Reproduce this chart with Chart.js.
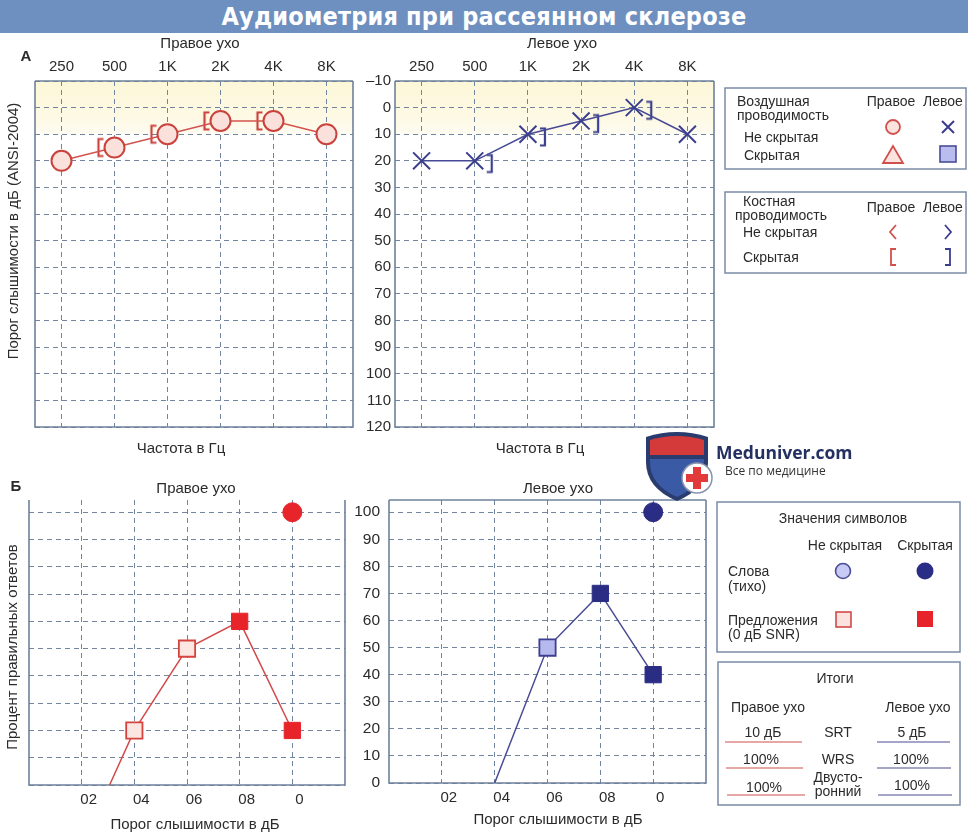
<!DOCTYPE html>
<html><head><meta charset="utf-8">
<script src="https://cdn.jsdelivr.net/npm/chart.js@4.4.0/dist/chart.umd.min.js"></script>
<style>
html,body{margin:0;padding:0;background:#fff}
body{width:968px;height:833px;position:relative;overflow:hidden;font-family:'Liberation Sans',Arial,sans-serif;color:#2a2a2a}
#bar{position:absolute;left:0;top:0;width:968px;height:33px;background:#6d90c0;color:#fff;text-align:center;
 font-family:'DejaVu Sans Condensed','DejaVu Sans',sans-serif;font-stretch:condensed;font-weight:bold;font-size:25px;line-height:33px;letter-spacing:0.2px}
canvas{position:absolute}
#ov{position:absolute;left:0;top:0;z-index:3;pointer-events:none}
#ov text{font-family:'Liberation Sans',Arial,sans-serif;fill:#2b2b2b}
#ov .lg{font-size:14px}
</style></head><body>
<div id="bar">Аудиометрия при рассеянном склерозе</div>
<canvas id="cA1" width="360" height="410" style="left:0;top:30px"></canvas>
<canvas id="cA2" width="370" height="410" style="left:355px;top:30px"></canvas>
<canvas id="cB1" width="360" height="350" style="left:0;top:470px"></canvas>
<canvas id="cB2" width="380" height="350" style="left:340px;top:470px"></canvas>

<svg id="ov" width="968" height="833" viewBox="0 0 968 833">
 <!-- panel labels and axis titles -->
 <text x="26" y="55" font-size="15" font-weight="bold" text-anchor="middle" dominant-baseline="central">А</text>
 <text x="200" y="42" font-size="15" text-anchor="middle" dominant-baseline="central">Правое ухо</text>
 <text x="562" y="42" font-size="15" text-anchor="middle" dominant-baseline="central">Левое ухо</text>
 <text transform="translate(12,231) rotate(-90)" font-size="15" text-anchor="middle" dominant-baseline="central">Порог слышимости в дБ (ANSI-2004)</text>
 <text x="181" y="447" font-size="15" text-anchor="middle" dominant-baseline="central">Частота в Гц</text>
 <text x="540" y="447" font-size="15" text-anchor="middle" dominant-baseline="central">Частота в Гц</text>

 <text x="16" y="485" font-size="15" font-weight="bold" text-anchor="middle" dominant-baseline="central">Б</text>
 <text x="196" y="487" font-size="15" text-anchor="middle" dominant-baseline="central">Правое ухо</text>
 <text x="558" y="487" font-size="15" text-anchor="middle" dominant-baseline="central">Левое ухо</text>
 <text transform="translate(11,647) rotate(-90)" font-size="15" text-anchor="middle" dominant-baseline="central">Процент правильных ответов</text>
 <text x="195" y="823" font-size="15" text-anchor="middle" dominant-baseline="central">Порог слышимости в дБ</text>
 <text x="558" y="818" font-size="15" text-anchor="middle" dominant-baseline="central">Порог слышимости в дБ</text>

 <!-- legend box 1: air conduction -->
 <rect x="725" y="88" width="241" height="81" fill="none" stroke="#7b8ba5" stroke-width="1.5"/>
 <text class="lg" x="737" y="101" dominant-baseline="central">Воздушная</text>
 <text class="lg" x="737" y="115" dominant-baseline="central">проводимость</text>
 <text class="lg" x="891" y="101" text-anchor="middle" dominant-baseline="central">Правое</text>
 <text class="lg" x="943" y="101" text-anchor="middle" dominant-baseline="central">Левое</text>
 <text class="lg" x="744" y="137" dominant-baseline="central">Не скрытая</text>
 <text class="lg" x="744" y="155" dominant-baseline="central">Скрытая</text>
 <circle cx="893" cy="127" r="7" fill="#fbe4df" stroke="#d2504c" stroke-width="1.8"/>
 <path d="M942,121 L954,133 M954,121 L942,133" stroke="#3a3d8f" stroke-width="2" fill="none"/>
 <path d="M893,146 L883,163 L903,163 Z" fill="#fbe4df" stroke="#d2504c" stroke-width="1.8"/>
 <rect x="940" y="146" width="16" height="16" fill="#b8bcef" stroke="#4a4d95" stroke-width="1.6"/>

 <!-- legend box 2: bone conduction -->
 <rect x="725" y="192" width="241" height="81" fill="none" stroke="#7b8ba5" stroke-width="1.5"/>
 <text class="lg" x="743" y="201" dominant-baseline="central">Костная</text>
 <text class="lg" x="735" y="215" dominant-baseline="central">проводимость</text>
 <text class="lg" x="891" y="207" text-anchor="middle" dominant-baseline="central">Правое</text>
 <text class="lg" x="943" y="207" text-anchor="middle" dominant-baseline="central">Левое</text>
 <text class="lg" x="743" y="232" dominant-baseline="central">Не скрытая</text>
 <text class="lg" x="743" y="257" dominant-baseline="central">Скрытая</text>
 <path d="M896,225 L890,232 L896,239" stroke="#d2504c" stroke-width="1.8" fill="none"/>
 <path d="M945,225 L951,232 L945,239" stroke="#3a3d8f" stroke-width="1.8" fill="none"/>
 <path d="M896,249 L891,249 L891,265 L896,265" stroke="#d2504c" stroke-width="1.8" fill="none"/>
 <path d="M945,249 L950,249 L950,265 L945,265" stroke="#3a3d8f" stroke-width="1.8" fill="none"/>

 <!-- legend box 3: speech symbols -->
 <rect x="717" y="502" width="243" height="150" fill="none" stroke="#7b8ba5" stroke-width="1.5"/>
 <text class="lg" x="843" y="518" text-anchor="middle" dominant-baseline="central">Значения символов</text>
 <text class="lg" x="845" y="545" text-anchor="middle" dominant-baseline="central">Не скрытая</text>
 <text class="lg" x="925" y="545" text-anchor="middle" dominant-baseline="central">Скрытая</text>
 <text class="lg" x="728" y="571" dominant-baseline="central">Слова</text>
 <text class="lg" x="728" y="586" dominant-baseline="central">(тихо)</text>
 <text class="lg" x="728" y="620" dominant-baseline="central">Предложения</text>
 <text class="lg" x="728" y="634" dominant-baseline="central">(0 дБ SNR)</text>
 <circle cx="843" cy="571" r="7.5" fill="#c7caf5" stroke="#4a4d95" stroke-width="1.6"/>
 <circle cx="925" cy="571" r="8.5" fill="#2a2d85"/>
 <rect x="836" y="612" width="15" height="15" fill="#fbe2df" stroke="#d04a48" stroke-width="1.6"/>
 <rect x="917" y="611" width="16" height="16" fill="#e8242b"/>

 <!-- legend box 4: totals -->
 <rect x="718" y="662" width="242" height="143" fill="none" stroke="#7b8ba5" stroke-width="1.5"/>
 <text class="lg" x="835" y="678" text-anchor="middle" dominant-baseline="central">Итоги</text>
 <text class="lg" x="768" y="707" text-anchor="middle" dominant-baseline="central">Правое ухо</text>
 <text class="lg" x="918" y="707" text-anchor="middle" dominant-baseline="central">Левое ухо</text>
 <text class="lg" x="763" y="732" text-anchor="middle" dominant-baseline="central">10 дБ</text>
 <text class="lg" x="838" y="732" text-anchor="middle" dominant-baseline="central">SRT</text>
 <text class="lg" x="912" y="732" text-anchor="middle" dominant-baseline="central">5 дБ</text>
 <text class="lg" x="761" y="759" text-anchor="middle" dominant-baseline="central">100%</text>
 <text class="lg" x="838" y="759" text-anchor="middle" dominant-baseline="central">WRS</text>
 <text class="lg" x="911" y="759" text-anchor="middle" dominant-baseline="central">100%</text>
 <text class="lg" x="764" y="787" text-anchor="middle" dominant-baseline="central">100%</text>
 <text class="lg" x="838" y="777" text-anchor="middle" dominant-baseline="central">Двусто-</text>
 <text class="lg" x="838" y="791" text-anchor="middle" dominant-baseline="central">ронний</text>
 <text class="lg" x="912" y="785" text-anchor="middle" dominant-baseline="central">100%</text>
 <g stroke-width="1.2" fill="none">
  <path d="M725,742 L802,742 M726,768 L803,768 M727,795 L805,795" stroke="#d05050"/>
  <path d="M877,742 L950,742 M877,768 L951,768 M878,795 L952,795" stroke="#4a4d8f"/>
 </g>

 <!-- watermark logo -->
 <path d="M646,437 Q677,427 708,437 L708,462 Q708,488 677,501 Q646,488 646,462 Z" fill="#2a3c6e"/>
 <path d="M650,440 Q677,432 704,440 L704,455 L650,455 Z" fill="#d53a3a"/>
 <path d="M650,459 L704,459 L704,462 Q704,485 677,497 Q650,485 650,462 Z" fill="#3a5aa5"/>
 <circle cx="697" cy="478" r="15" fill="#fff" stroke="#8a93ad" stroke-width="1.5"/>
 <path d="M693,467 h8 v7 h7 v8 h-7 v7 h-8 v-7 h-7 v-8 h7 Z" fill="#e23a3a"/>
 <text x="716" y="459" font-size="17.5" font-weight="bold" style="font-family:'Open Sans',sans-serif;fill:#233061">Meduniver.com</text>
 <text x="725" y="475" font-size="12" style="font-family:'Open Sans',sans-serif;fill:#333">Все по медицине</text>
</svg>

<script>
// ---------- data ----------
const freqLabels = ['250', '500', '1K', '2K', '4K', '8K'];
const rightAirDb = [20, 15, 10, 5, 5, 10];
const rightBoneMaskedDb = [null, 15, 10, 5, 5, null];
const leftAirDb = [20, 20, 10, 5, 0, 10];
const leftBoneMaskedDb = [null, 21, 11, 6, 1, null];
const dbRange = [-10, 120];
const dbStep = 10;
const normalBandDb = [-10, 10];

const levelTickPos = [1, 2, 3, 4, 5];
const levelTickLabels = ['02', '04', '06', '08', '0'];
const levelRange = [0, 6];
const pctRange = [0, 104.5];
const pctTicks = [0, 10, 20, 30, 40, 50, 60, 70, 80, 90, 100];
const rightSentLevel = [1.53, 2, 3, 4, 5];
const rightSentPct = [0, 20, 50, 60, 20];
const rightSentKind = ['start', 'open', 'open', 'masked', 'masked'];
const rightWordLevel = [5];
const rightWordPct = [100];
const leftSentLevel = [2, 3, 4, 5];
const leftSentPct = [0, 50, 70, 40];
const leftSentKind = ['start', 'open', 'masked', 'masked'];
const leftWordLevel = [5];
const leftWordPct = [100];

// ---------- styling ----------
Chart.defaults.font.family = "'Liberation Sans', Arial, sans-serif";
Chart.defaults.color = '#2b2b2b';
const GRID = '#7184a0';
const FRAME = '#6f819c';
const DASH = [5, 4];

const framePlugin = {
  id: 'frame',
  beforeDatasetsDraw(chart, args, opts) {
    const {left, top, right, bottom} = chart.chartArea;
    const g = chart.ctx;
    g.save();
    g.strokeStyle = FRAME; g.lineWidth = 1.6; g.setLineDash([]);
    g.beginPath();
    if (opts.top !== false) { g.moveTo(left, top); g.lineTo(right, top); }
    g.moveTo(right, top); g.lineTo(right, bottom); g.lineTo(left, bottom); g.lineTo(left, top);
    g.stroke();
    g.restore();
  }
};
const bandPlugin = {
  id: 'band',
  beforeDraw(chart, args, opts) {
    if (!opts.range) return;
    const y = chart.scales.y;
    const {left, right} = chart.chartArea;
    const y1 = y.getPixelForValue(opts.range[0]);
    const y2 = y.getPixelForValue(opts.range[1]);
    const g = chart.ctx;
    const grd = g.createLinearGradient(0, y1, 0, y2);
    grd.addColorStop(0, '#fcf7d8');
    grd.addColorStop(0.7, '#fdf9e4');
    grd.addColorStop(1, '#fefcf2');
    g.save(); g.fillStyle = grd; g.fillRect(left, y1, right - left, y2 - y1); g.restore();
  }
};
Chart.register(framePlugin, bandPlugin);

function bracketImg(side, color) {
  const c = document.createElement('canvas');
  c.width = 44; c.height = 22;
  const g = c.getContext('2d');
  g.strokeStyle = color; g.lineWidth = 2.2;
  const cx = 22;
  const xv = side === 'left' ? cx - 16 : cx + 17;
  const xs = side === 'left' ? xv + 5 : xv - 5;
  g.beginPath();
  g.moveTo(xs, 2.5); g.lineTo(xv, 2.5); g.lineTo(xv, 19.5); g.lineTo(xs, 19.5);
  g.stroke();
  return c;
}

function audiogram(id, air, bone, o) {
  const airSet = o.ear === 'right'
    ? {data: air, borderColor: '#d2544e', borderWidth: 1.5, pointStyle: 'circle', pointRadius: 10,
       pointBorderWidth: 2, pointBorderColor: '#c9423c', pointBackgroundColor: '#fbe1dc'}
    : {data: air, borderColor: '#474a94', borderWidth: 1.5, pointStyle: 'crossRot', pointRadius: 12,
       pointBorderWidth: 2, pointBorderColor: '#3b3e8d', pointBackgroundColor: '#3b3e8d'};
  const boneSet = {data: bone, showLine: false, pointRadius: 11,
    pointStyle: bracketImg(o.ear === 'right' ? 'left' : 'right', o.ear === 'right' ? '#c9423c' : '#3b3e8d')};
  return new Chart(document.getElementById(id), {
    type: 'line',
    data: {labels: freqLabels, datasets: [airSet, boneSet]},
    options: {
      responsive: false, animation: false, events: [],
      layout: {autoPadding: false, padding: o.pad},
      plugins: {legend: {display: false}, tooltip: {enabled: false},
        band: {range: normalBandDb}, frame: {}},
      scales: {
        x: {position: 'top', offset: true,
          grid: {offset: false, color: GRID, lineWidth: 1, drawTicks: false},
          border: {display: false, dash: DASH},
          ticks: {font: {size: 15}, padding: 5, maxRotation: 0, color: '#2b2b2b'},
          afterFit(s) { s.height = o.topH; }},
        y: {reverse: true, min: dbRange[0], max: dbRange[1],
          grid: {color: GRID, lineWidth: 1, drawTicks: false},
          border: {display: false, dash: DASH},
          ticks: {display: o.showY, stepSize: dbStep, font: {size: 15}, padding: 4, color: '#2b2b2b',
            callback: v => (v < 0 ? '\u2013' + Math.abs(v) : String(v))},
          afterFit(s) { s.width = o.leftW; }}
      }
    }
  });
}

function speech(id, sLevel, sPct, sKind, wLevel, wPct, o) {
  const sent = {
    data: sLevel.map((x, i) => ({x, y: sPct[i]})),
    borderColor: o.line, borderWidth: 1.5, pointStyle: 'rect',
    pointRadius: sKind.map(k => (k === 'start' ? 0 : 11.5)),
    pointBorderWidth: sKind.map(k => (k === 'open' ? 1.8 : 1)),
    pointBackgroundColor: sKind.map(k => (k === 'open' ? o.light : o.fill)),
    pointBorderColor: sKind.map(k => (k === 'open' ? o.outline : o.fill))
  };
  const word = {
    data: wLevel.map((x, i) => ({x, y: wPct[i]})),
    showLine: false, pointStyle: 'circle', pointRadius: 9.5, pointBorderWidth: 1,
    pointBackgroundColor: o.fill, pointBorderColor: o.fill
  };
  return new Chart(document.getElementById(id), {
    type: 'line',
    data: {datasets: [word, sent]},
    options: {
      responsive: false, animation: false, events: [],
      layout: {autoPadding: false, padding: o.pad},
      plugins: {legend: {display: false}, tooltip: {enabled: false}, frame: {top: o.frameTop}},
      scales: {
        x: {type: 'linear', min: levelRange[0], max: levelRange[1],
          grid: {color: GRID, lineWidth: 1, drawTicks: false},
          border: {display: false, dash: DASH},
          ticks: {font: {size: 15}, padding: 6, labelOffset: 7, color: '#2b2b2b',
            callback: v => { const i = levelTickPos.indexOf(v); return i < 0 ? '' : levelTickLabels[i]; }},
          afterBuildTicks(s) { s.ticks = levelTickPos.map(v => ({value: v})); },
          afterFit(s) { s.height = o.botH; }},
        y: {min: pctRange[0], max: pctRange[1],
          grid: {color: GRID, lineWidth: 1, drawTicks: false},
          border: {display: false, dash: DASH},
          ticks: {display: o.showY, font: {size: 15.5}, padding: 9, color: '#2b2b2b'},
          afterBuildTicks(s) { s.ticks = pctTicks.map(v => ({value: v})); },
          afterFit(s) { s.width = o.leftW; }}
      }
    }
  });
}

audiogram('cA1', rightAirDb, rightBoneMaskedDb,
  {ear: 'right', showY: false, leftW: 35, topH: 51, pad: {left: 0, top: 0, right: 7, bottom: 13}});
audiogram('cA2', leftAirDb, leftBoneMaskedDb,
  {ear: 'left', showY: true, leftW: 40, topH: 51, pad: {left: 0, top: 0, right: 11, bottom: 13}});

speech('cB1', rightSentLevel, rightSentPct, rightSentKind, rightWordLevel, rightWordPct,
  {line: '#d24a4a', light: '#fbe6e2', outline: '#d6433f', fill: '#e8242b', showY: false, frameTop: false,
   leftW: 29, botH: 35, pad: {left: 0, top: 30, right: 15, bottom: 0}});
speech('cB2', leftSentLevel, leftSentPct, leftSentKind, leftWordLevel, leftWordPct,
  {line: '#484b95', light: '#b5b9ee', outline: '#3c3f8f', fill: '#2b2d85', showY: true, frameTop: true,
   leftW: 49, botH: 37, pad: {left: 0, top: 30, right: 14, bottom: 0}});
</script>
</body></html>
